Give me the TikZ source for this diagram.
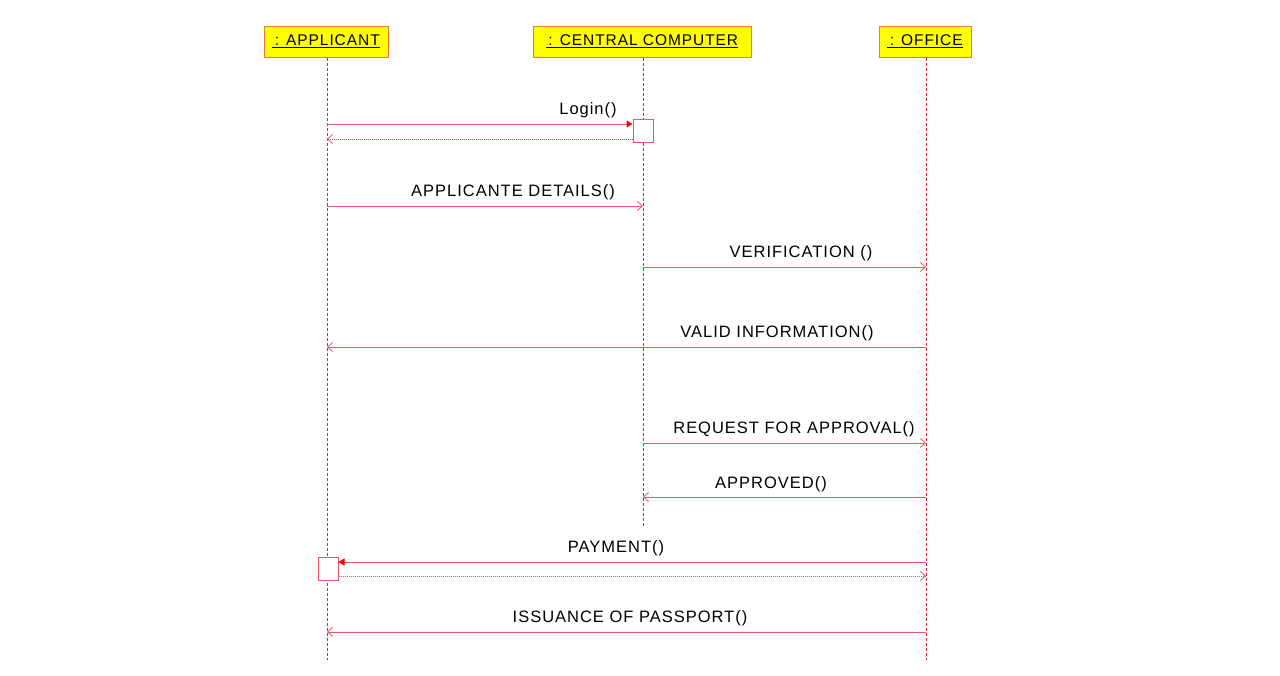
\documentclass[tikz,border=0pt]{standalone}
\usepackage{fontspec}
\setmainfont{Liberation Sans}
\newfontfamily\lspfont[LetterSpace=6]{Liberation Sans}
\usetikzlibrary{arrows.meta}
\definecolor{lred}{HTML}{F05566}
\definecolor{dred}{HTML}{D8203A}
\definecolor{boxedge}{HTML}{F07838}
\definecolor{yel}{HTML}{FFFF00}
\tikzset{
  objbox/.style={draw=boxedge, fill=yel, line width=1pt, minimum height=31pt, inner xsep=4pt, font=\lspfont\fontsize{15.5}{18}\selectfont, anchor=center},
  lifeline/.style={draw=dred, dash pattern=on 3pt off 2pt, line width=1pt},
  msg/.style={draw=lred, line width=1pt, -{Straight Barb[length=5pt,width=9pt,line width=0.8pt]}},
  callmsg/.style={draw=lred, line width=1pt, -{Triangle[length=6pt,width=7pt,color=red,fill=red]}},
  retmsg/.style={draw=lred, line width=0.8pt, dash pattern=on 1pt off 1pt, -{Straight Barb[length=5pt,width=9pt,line width=0.8pt,sep=0pt]}},
  actbox/.style={draw=lred, fill=white, line width=1pt, minimum width=20pt, minimum height=23pt, inner sep=0pt},
  lbl/.style={font=\lspfont\fontsize{16.5}{18}\selectfont, inner sep=0pt, anchor=base}
}
\begin{document}
\begin{tikzpicture}[x=1pt,y=-1pt]
\useasboundingbox[fill=white] (0,0) rectangle (1280,675);
% objects
\node[objbox, minimum width=124pt] (app) at (326,41.5) {\underline{\,: APPLICANT}};
\node[objbox, minimum width=218pt] (cc) at (642,41.5) {\underline{\,: CENTRAL COMPUTER}};
\node[objbox, minimum width=92pt] (off) at (925,41.5) {\underline{\,: OFFICE}};
% lifeline ends
\coordinate (appE) at (327,660);
\coordinate (ccE) at (643,526);
\coordinate (offE) at (926,660);
\draw[lifeline] (app.south -| appE) -- (appE);
\draw[lifeline] (cc.south -| ccE) -- (ccE);
\draw[lifeline] (off.south -| offE) -- (offE);
% activation boxes
\node[actbox] (act1) at (643,130.5) {};
\node[actbox] (act2) at (328,568.5) {};
% message coordinates
\coordinate (a1) at (327,124); \coordinate (a1r) at (327,139);
\coordinate (a2) at (327,206); \coordinate (c2) at (643,206);
\coordinate (c3) at (643,267); \coordinate (o3) at (926,267);
\coordinate (o4) at (926,347); \coordinate (a4) at (327,347);
\coordinate (c5) at (643,443); \coordinate (o5) at (926,443);
\coordinate (o6) at (926,497); \coordinate (c6) at (643,497);
\coordinate (o7) at (926,562); \coordinate (o7r) at (926,576);
\coordinate (o8) at (926,632); \coordinate (a8) at (327,632);
% messages
\draw[callmsg] (a1) -- (a1 -| act1.west);
\draw[retmsg] (a1r -| act1.west) -- (a1r);
\draw[msg] (a2) -- (c2);
\draw[msg] (c3) -- (o3);
\draw[msg] (o4) -- (a4);
\draw[msg] (c5) -- (o5);
\draw[msg] (o6) -- (c6);
\draw[callmsg] (o7) -- (o7 -| act2.east);
\draw[retmsg] (o7r -| act2.east) -- (o7r);
\draw[msg] (o8) -- (a8);
% labels
\node[lbl] (l1) at (588,114) {Login()};
\node[lbl] (l2) at (513,196) {APPLICANTE DETAILS()};
\node[lbl] (l3) at (801,257) {VERIFICATION ()};
\node[lbl] (l4) at (777,337) {VALID INFORMATION()};
\node[lbl] (l5) at (794,433) {REQUEST FOR APPROVAL()};
\node[lbl] (l6) at (771,488) {APPROVED()};
\node[lbl] (l7) at (616,552) {PAYMENT()};
\node[lbl] (l8) at (630,622) {ISSUANCE OF PASSPORT()};
\end{tikzpicture}
\end{document}
